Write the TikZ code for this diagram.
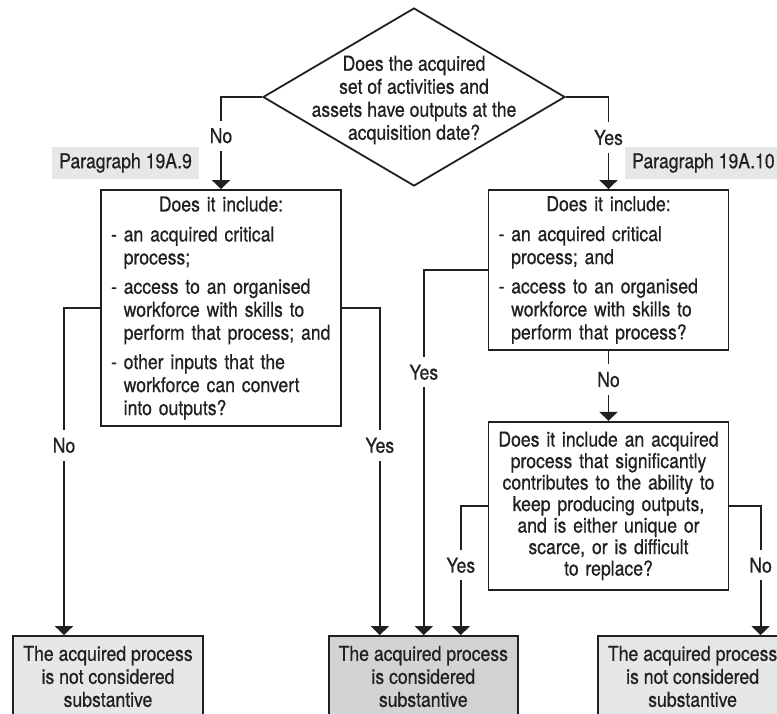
\documentclass[tikz,border=0pt]{standalone}
\usepackage{fontspec}
\setmainfont[FakeStretch=0.86,FakeBold=0.6]{TeX Gyre Heros}
\usetikzlibrary{shapes.geometric,arrows.meta,positioning,calc}

\definecolor{paragray}{HTML}{E6E7E8}
\definecolor{outgray}{HTML}{D1D3D4}
\definecolor{inkgray}{HTML}{231F20}
\newcommand{\dashind}{\phantom{-\ }}

\begin{document}
\begin{tikzpicture}[
    x=1pt, y=-1pt,
    font=\fontsize{20.5}{23}\selectfont,
    text=inkgray,
    >={Triangle[width=18pt,length=9pt]},
    block/.style={
        rectangle, draw=inkgray, line width=1.8pt,
        inner xsep=10pt, inner ysep=0pt,
        text width=220pt
    },
    outcome/.style={
        rectangle, draw=inkgray, line width=1.8pt, align=center,
        minimum width=190pt, minimum height=81pt, inner sep=0pt
    },
    para/.style={fill=paragray, inner xsep=7pt, minimum height=32pt, anchor=west},
    arrow/.style={->, draw=inkgray, line width=1.8pt},
    answer/.style={fill=white, inner xsep=2pt, inner ysep=7.5pt},
]
  \useasboundingbox (0,0) rectangle (777,713);

  %––– Question ––––––––––––––––––––––––––––––––––––––––––––––
  \node (q1) [diamond, draw=inkgray, line width=1.8pt, inner sep=0pt,
              minimum width=302pt, minimum height=178pt] at (414,97) {};
  \node (q1text) [align=center] at (414,100)
      {Does the acquired\\set of activities and\\assets have outputs at the\\acquisition date?};

  \node (para9)  [para] at (52,163)  {Paragraph 19A.9};
  \node (para10) [para] at (625,163) {Paragraph 19A.10};

  %––– Checks ––––––––––––––––––––––––––––––––––––––––––––––––
  \node (boxA) [block, align=left, minimum height=236pt] at (221,308) {%
      \makebox[220pt]{Does it include:}\\[7pt]
      - an acquired critical\\\dashind process;\\[6.3pt]
      - access to an organised\\\dashind workforce with skills to\\\dashind perform that process; and\\[6.3pt]
      - other inputs that the\\\dashind workforce can convert\\\dashind into outputs?};

  \node (boxB) [block, align=left, minimum height=160pt] at (608.5,270) {%
      \makebox[220pt]{Does it include:}\\[7pt]
      - an acquired critical\\\dashind process; and\\[6.3pt]
      - access to an organised\\\dashind workforce with skills to\\\dashind perform that process?};

  \node (boxC) [block, align=center, minimum height=168pt, below=70pt of boxB,
                inner xsep=5pt, text width=230pt,
                font=\fontsize{20.5}{21.5}\selectfont] {%
      Does it include an acquired\\process that significantly\\contributes to the ability to\\keep producing outputs,\\and is either unique or\\scarce, or is difficult\\to replace?};

  %––– Outcomes ––––––––––––––––––––––––––––––––––––––––––––––
  \node (outD) [outcome, fill=paragray] at (108,676.5)
      {The acquired process\\is not considered\\substantive};
  \node (outE) [outcome, fill=outgray, minimum width=189pt, right=124pt of outD]
      {The acquired process\\is considered\\substantive};
  \node (outF) [outcome, fill=paragray, right=78pt of outE]
      {The acquired process\\is not considered\\substantive};

  %––– Arrows ––––––––––––––––––––––––––––––––––––––––––––––––
  \draw[arrow] (q1.west) -| node[answer, pos=0.71] {No} (boxA.north);
  \draw[arrow] (q1.east) -| node[answer, pos=0.72] {Yes} (boxB.north);
  \draw[arrow] (boxA.west) -| node[answer, pos=0.71] {No} ([xshift=-44pt]outD.north);
  \draw[arrow] (boxA.east) -| node[answer, pos=0.71] {Yes} ([xshift=-43.5pt]outE.north);
  \draw[arrow] (boxB.west) -| node[answer, pos=0.64] {Yes} ([xshift=0.5pt]outE.north);
  \draw[arrow] (boxB.south) -- node[answer, pos=0.41] {No} (boxC.north);
  \draw[arrow] (boxC.west) -| node[answer, pos=0.73] {Yes} ([xshift=37.5pt]outE.north);
  \draw[arrow] (boxC.east) -| node[answer, pos=0.73] {No} ([xshift=68pt]outF.north);
\end{tikzpicture}
\end{document}
